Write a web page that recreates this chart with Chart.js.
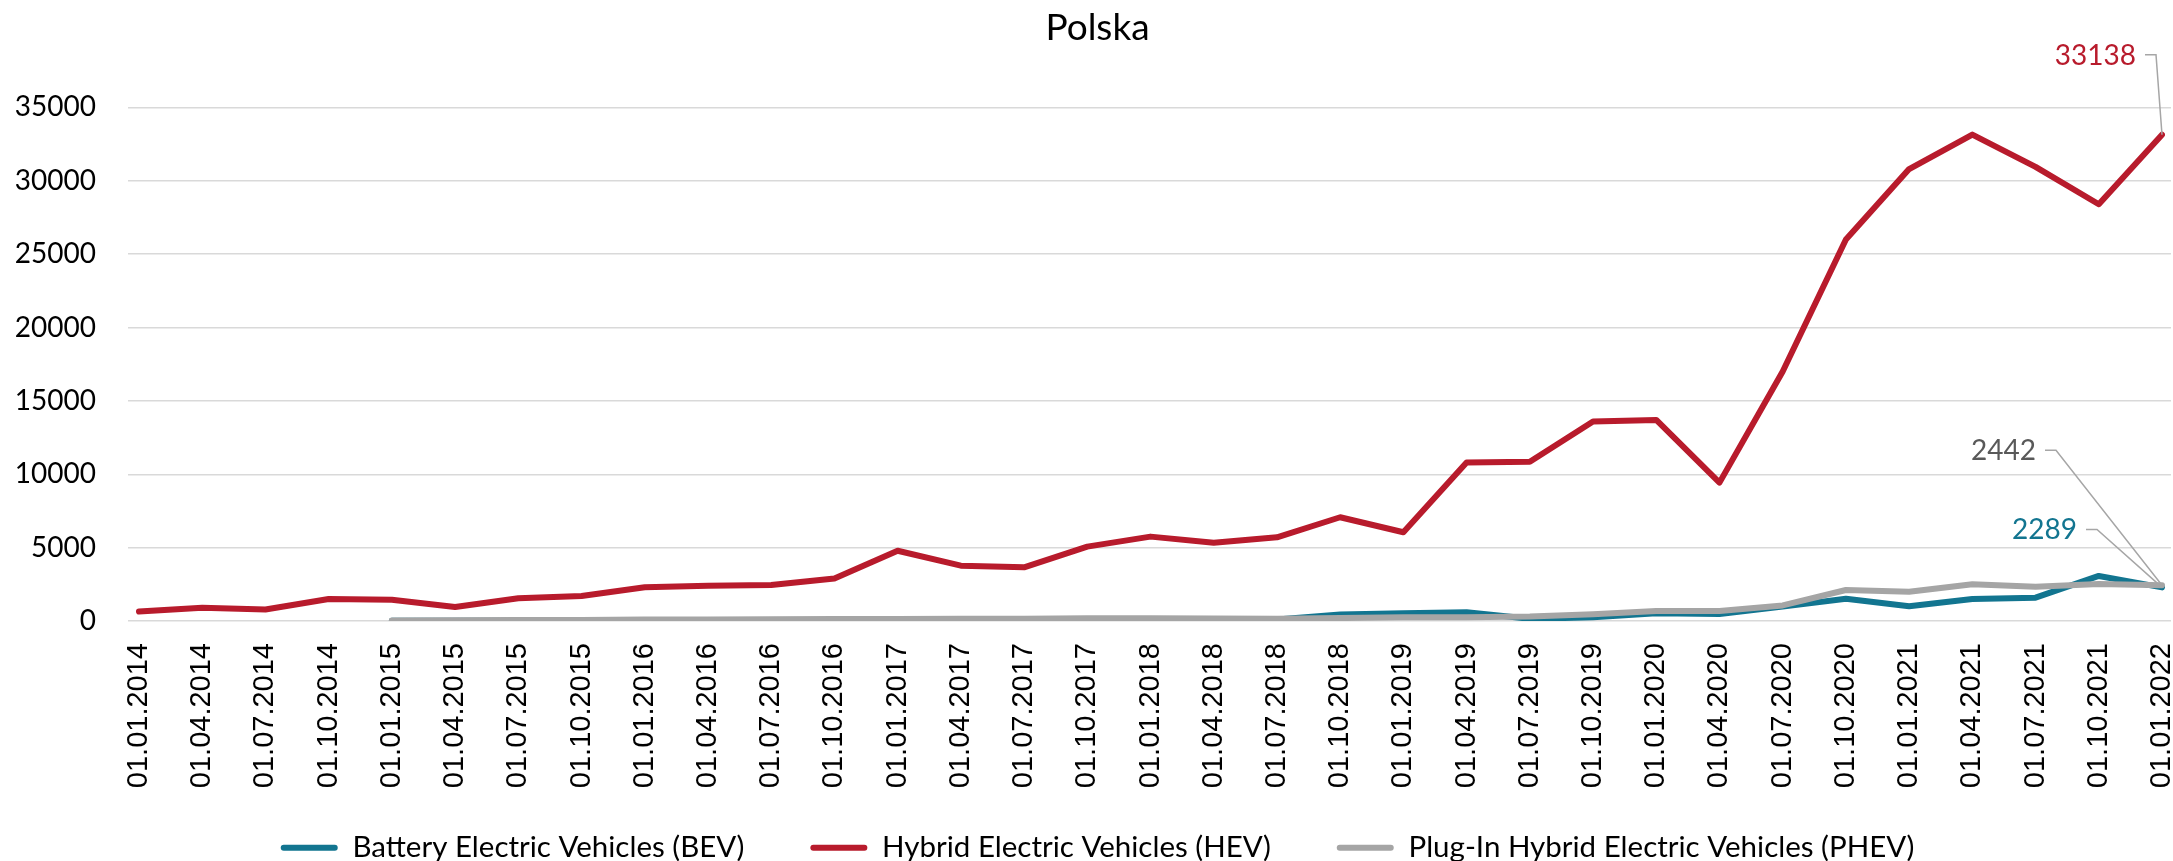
<!DOCTYPE html>
<html>
<head>
<meta charset="utf-8">
<script src="https://cdn.jsdelivr.net/npm/chart.js@4.4.1/dist/chart.umd.min.js"></script>
<style>
html,body{margin:0;padding:0;background:#fff;overflow:hidden}
#wrap{width:2173px;height:861px;position:relative}
</style>
</head>
<body>
<div id="wrap"><canvas id="c"></canvas></div>
<script>
const categories = [
  '01.01.2014','01.04.2014','01.07.2014','01.10.2014',
  '01.01.2015','01.04.2015','01.07.2015','01.10.2015',
  '01.01.2016','01.04.2016','01.07.2016','01.10.2016',
  '01.01.2017','01.04.2017','01.07.2017','01.10.2017',
  '01.01.2018','01.04.2018','01.07.2018','01.10.2018',
  '01.01.2019','01.04.2019','01.07.2019','01.10.2019',
  '01.01.2020','01.04.2020','01.07.2020','01.10.2020',
  '01.01.2021','01.04.2021','01.07.2021','01.10.2021',
  '01.01.2022'
];
const bevValues = [
  null, null, null, null,
  15, 20, 25, 30,
  40, 45, 50, 55,
  60, 70, 80, 100,
  90, 95, 110, 450,
  520, 600, 150, 250,
  520, 480, 980, 1520,
  1000, 1500, 1590, 3070,
  2289
];
const hevValues = [
  650, 900, 780, 1500,
  1450, 950, 1550, 1700,
  2300, 2400, 2450, 2900,
  4790, 3770, 3660, 5070,
  5750, 5340, 5700, 7070,
  6050, 10800, 10850, 13590,
  13700, 9430, 17000, 26000,
  30800, 33150, 30950, 28400,
  33138
];
const phevValues = [
  null, null, null, null,
  30, 50, 60, 70,
  100, 110, 120, 130,
  140, 150, 160, 180,
  180, 170, 160, 200,
  250, 260, 300, 460,
  680, 680, 1060, 2110,
  2000, 2500, 2340, 2520,
  2442
];
const seriesNames = [
  'Battery Electric Vehicles (BEV)',
  'Hybrid Electric Vehicles (HEV)',
  'Plug-In Hybrid Electric Vehicles (PHEV)'
];
const yTicks = [0, 5000, 10000, 15000, 20000, 25000, 30000, 35000];

const TEAL = '#127590';
const RED = '#B81B2C';
const GRAY = '#A5A5A5';
const LABEL_FONT = '28px Lato';

const endLabels = {
  id: 'endLabels',
  afterDatasetsDraw(chart, args, opts) {
    const ctx = chart.ctx;
    opts.items.forEach(it => {
      const meta = chart.getDatasetMeta(it.dataset);
      const data = chart.data.datasets[it.dataset].data;
      const last = data.length - 1;
      const pt = meta.data[last];
      const tx = pt.x + it.dx, ty = pt.y + it.dy;
      ctx.save();
      ctx.font = LABEL_FONT;
      ctx.fillStyle = it.color;
      ctx.textAlign = 'right';
      ctx.textBaseline = 'middle';
      ctx.fillText(String(data[last]), tx, ty);
      ctx.strokeStyle = '#A6A6A6';
      ctx.lineWidth = 1.5;
      ctx.beginPath();
      ctx.moveTo(tx + 9, ty - 1);
      ctx.lineTo(tx + 20, ty - 1);
      ctx.lineTo(pt.x, pt.y);
      ctx.stroke();
      ctx.restore();
    });
  }
};

const defaultGen = Chart.defaults.plugins.legend.labels.generateLabels;

new Chart(document.getElementById('c'), {
  type: 'line',
  data: {
    labels: categories,
    datasets: [
      { label: seriesNames[0], data: bevValues, borderColor: TEAL, backgroundColor: TEAL, order: 2 },
      { label: seriesNames[1], data: hevValues, borderColor: RED, backgroundColor: RED, order: 1 },
      { label: seriesNames[2], data: phevValues, borderColor: GRAY, backgroundColor: GRAY, order: 0 }
    ]
  },
  options: {
    responsive: true,
    maintainAspectRatio: false,
    devicePixelRatio: 1,
    animation: false,
    layout: { padding: { left: 22, right: 0, top: 0, bottom: 0 } },
    elements: {
      line: { borderWidth: 6, tension: 0, borderCapStyle: 'round', borderJoinStyle: 'round', fill: false },
      point: { radius: 0, hoverRadius: 0 }
    },
    scales: {
      x: {
        type: 'category',
        offset: false,
        grid: { display: false, drawTicks: false },
        border: { display: false },
        ticks: {
          autoSkip: false, maxRotation: 90, minRotation: 90, padding: 22,
          color: '#000', font: { family: 'Liberation Sans', size: 29 }
        },
        afterFit(s) {
          s.height = 146; s.paddingLeft = 0; s.paddingRight = 0;
          s._computeLabelArea = () => undefined;
        }
      },
      y: {
        position: 'left',
        min: 0, max: 35000,
        afterBuildTicks(s) { s.ticks = yTicks.map(v => ({ value: v })); },
        grid: { color: '#D9D9D9', lineWidth: 1.5, tickLength: 11, tickColor: '#D9D9D9', tickWidth: 1.5 },
        border: { display: false },
        ticks: { padding: 32, color: '#000', font: { family: 'Lato', size: 28 }, callback: v => String(v) },
        afterFit(s) { s.width = 117; s._computeLabelArea = () => undefined; }
      },
      y2: {
        position: 'right',
        min: 0, max: 35000,
        afterBuildTicks(s) { s.ticks = yTicks.map(v => ({ value: v })); },
        grid: { drawOnChartArea: false, color: '#D9D9D9', lineWidth: 1.5, tickLength: 9, tickColor: '#D9D9D9', tickWidth: 1.5 },
        border: { display: false },
        ticks: { display: false },
        afterFit(s) { s.width = 11; }
      }
    },
    plugins: {
      title: {
        display: true, text: 'Polska', color: '#000',
        font: { family: 'Lato', size: 37, weight: 'normal' },
        padding: { top: 6, bottom: 57 }
      },
      legend: {
        display: true, position: 'bottom', maxHeight: 94,
        labels: {
          color: '#000', font: { family: 'Lato', size: 29.5 },
          boxWidth: 57, boxHeight: 6, padding: 66,
          useBorderRadius: true, borderRadius: 3,
          sort: (a, b) => a.datasetIndex - b.datasetIndex,
          generateLabels(chart) {
            return defaultGen(chart).map(it => Object.assign(it, { lineWidth: 0, fillStyle: it.strokeStyle, borderRadius: 3 }));
          }
        }
      },
      tooltip: { enabled: false },
      endLabels: {
        items: [
          { dataset: 1, dx: -26, dy: -79, color: RED },
          { dataset: 2, dx: -126, dy: -134, color: '#595959' },
          { dataset: 0, dx: -85, dy: -57, color: TEAL }
        ]
      }
    }
  },
  plugins: [endLabels]
});
</script>
</body>
</html>
